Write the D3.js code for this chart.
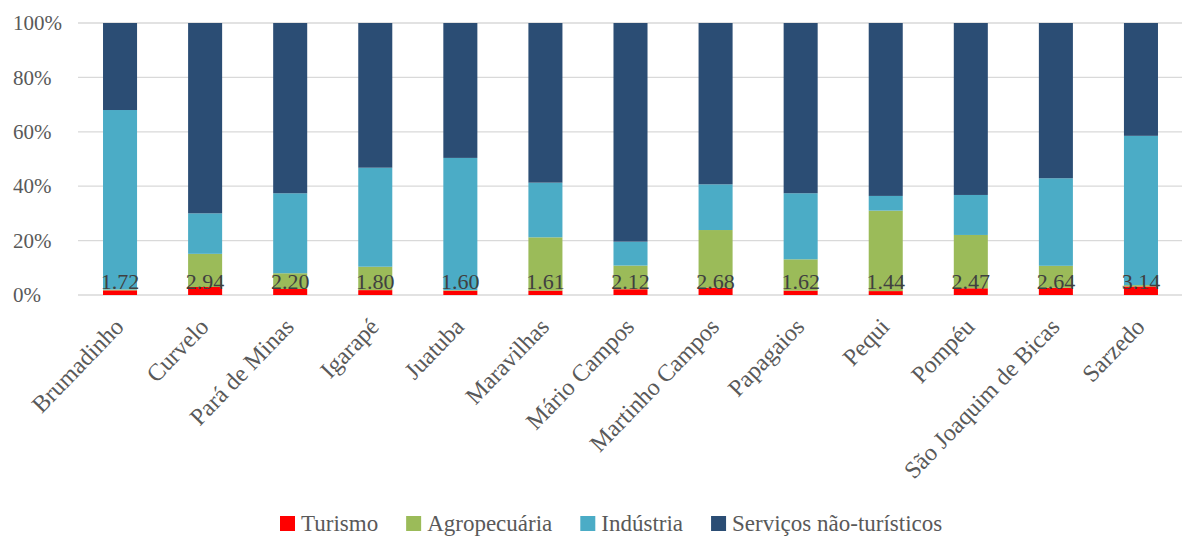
<!DOCTYPE html>
<html><head><meta charset="utf-8">
<script src="https://cdn.jsdelivr.net/npm/d3@7"></script>
<style>
html,body{margin:0;padding:0;background:#fff;}
svg{display:block;font-family:"Liberation Serif","Times New Roman",serif;}
</style></head>
<body><svg id="chart" width="1182" height="538"></svg>
<script>
const categories = ["Brumadinho","Curvelo","Pará de Minas","Igarapé","Juatuba","Maravilhas","Mário Campos","Martinho Campos","Papagaios","Pequi","Pompéu","São Joaquim de Bicas","Sarzedo"];
const turismo      = [1.72,2.94,2.20,1.80,1.60,1.61,2.12,2.68,1.62,1.44,2.47,2.64,3.14];
const agropecuaria = [0.3,12.2,5.8,8.6,0.2,19.6,8.7,21.2,11.5,29.6,19.6,8.1,0.5];
const industria    = [66.0,14.9,29.4,36.4,48.6,20.1,8.8,16.8,24.3,5.4,14.7,32.2,54.9];
const servicos     = [32.0,70.0,62.6,53.2,49.6,58.7,80.4,59.3,62.6,63.6,63.2,57.1,41.5];
const seriesNames  = ["Turismo","Agropecuária","Indústria","Serviços não-turísticos"];
const seriesColors = ["#ff0000","#9bbb59","#4bacc6","#2b4d74"];
const yTicks       = [0,0.2,0.4,0.6,0.8,1];

const seriesArrays = [turismo, agropecuaria, industria, servicos];
const rows = categories.map((c,i)=>{
  const r = {cat:c};
  seriesNames.forEach((s,j)=>{ r[s] = seriesArrays[j][i]; });
  return r;
});

const svg = d3.select("#chart");
const x = d3.scaleBand().domain(categories).range([77.5,1183.5]).paddingInner(0.6).paddingOuter(0.3);
const y = d3.scaleLinear().domain([0,1]).range([295,23]);

const stack = d3.stack().keys(seriesNames).offset(d3.stackOffsetExpand);
const stacked = stack(rows);

// gridlines
svg.append("g").selectAll("line").data(yTicks).join("line")
  .attr("x1",78).attr("x2",1182)
  .attr("y1",d=>y(d)).attr("y2",d=>y(d))
  .attr("stroke","#d9d9d9").attr("stroke-width",1.3);

// y axis labels
const yAxis = svg.append("g").attr("transform","translate(78,0)")
  .call(d3.axisLeft(y).tickValues(yTicks).tickFormat(d3.format(".0%")).tickSize(0));
yAxis.select(".domain").remove();
yAxis.attr("font-family",null).attr("font-size",null);
yAxis.selectAll("text").attr("x",-65).attr("text-anchor","start")
  .attr("fill","#595959").style("font-size","21px");

// bars
svg.append("g").selectAll("g").data(stacked).join("g")
  .attr("fill",(d,i)=>seriesColors[i])
  .selectAll("rect").data(d=>d).join("rect")
  .attr("x",d=>x(d.data.cat))
  .attr("width",x.bandwidth())
  .attr("y",d=>y(d[1]))
  .attr("height",d=>y(d[0])-y(d[1]));

// data labels (turismo values)
svg.append("g").selectAll("text").data(rows).join("text")
  .attr("x",d=>x(d.cat)+x.bandwidth()/2)
  .attr("y",288.5)
  .attr("text-anchor","middle")
  .attr("fill","#404040")
  .style("font-size","22px")
  .text(d=>d["Turismo"].toFixed(2));

// x axis
const xAxis = svg.append("g").attr("transform","translate(0,295)")
  .call(d3.axisBottom(x).tickSize(0));
xAxis.select(".domain").remove();
xAxis.attr("font-family",null).attr("font-size",null);
xAxis.selectAll("text")
  .attr("fill","#595959")
  .style("font-size","24px")
  .attr("text-anchor","end")
  .attr("dy",0)
  .attr("y",0)
  .attr("transform","translate(5,33) rotate(-46)");

// legend
const legend = svg.append("g").attr("transform","translate(280,524)");
let lx = 0;
seriesNames.forEach((s,i)=>{
  const g = legend.append("g").attr("transform",`translate(${lx},0)`);
  g.append("rect").attr("x",0).attr("y",-8).attr("width",15).attr("height",15).attr("fill",seriesColors[i]);
  const t = g.append("text").attr("x",21).attr("y",7).attr("fill","#595959")
    .style("font-size","23px").text(s);
  lx += 21 + t.node().getComputedTextLength() + 28;
});
</script></body></html>
